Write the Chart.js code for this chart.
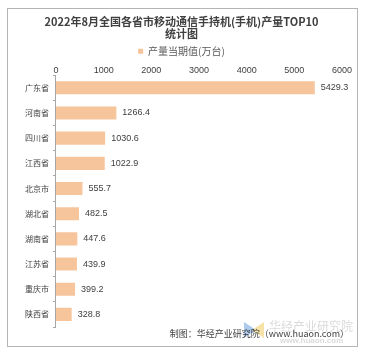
<!DOCTYPE html>
<html lang="zh-CN">
<head>
<meta charset="UTF-8">
<title>2022年8月全国各省市移动通信手持机(手机)产量TOP10统计图</title>
<script src="https://cdn.jsdelivr.net/npm/chart.js@4/dist/chart.umd.min.js"></script>
<style>
    body { margin: 0; background: #fff; }
    .box { position: relative; width: 368px; height: 358px; }
    .frame {
        position: absolute; left: 7px; top: 8px; width: 351px; height: 339px;
        border: 1px solid #b5b5b5; box-sizing: border-box; pointer-events: none;
    }
</style>
</head>
<body>
<div class="box">
    <canvas id="grafico" width="368" height="358"></canvas>
    <div class="frame"></div>
</div>
<script>
    const provincias = ['广东省', '河南省', '四川省', '江西省', '北京市', '湖北省', '湖南省', '江苏省', '重庆市', '陕西省'];
    const producao = [5429.3, 1266.4, 1030.6, 1022.9, 555.7, 482.5, 447.6, 439.9, 399.2, 328.8];
    const nomeSerie = '产量当期值(万台)';
    const titulo = ['2022年8月全国各省市移动通信手持机(手机)产量TOP10', '统计图'];
    const rodape = '制图：华经产业研究院（www.huaon.com）';

    const fonte = '"Noto Sans CJK SC", "Liberation Sans", sans-serif';
    const fonteNum = '"Liberation Sans", Arial, sans-serif';

    // valores na ponta das barras
    const rotulos = {
        id: 'rotulos',
        afterDatasetsDraw(chart) {
            const ctx = chart.ctx;
            const meta = chart.getDatasetMeta(0);
            ctx.save();
            ctx.font = '9px ' + fonteNum;
            ctx.fillStyle = '#404040';
            ctx.textBaseline = 'middle';
            meta.data.forEach((bar, i) => {
                ctx.fillText(producao[i].toFixed(1), bar.x + 6, bar.y);
            });
            ctx.restore();
        }
    };

    // rodapé + marca d'água
    const textoRodape = {
        id: 'textoRodape',
        afterDraw(chart) {
            const ctx = chart.ctx;
            ctx.save();
            ctx.fillStyle = 'rgba(70,140,220,0.45)';
            ctx.beginPath();
            ctx.moveTo(244, 322); ctx.lineTo(256, 330); ctx.lineTo(244, 338); ctx.closePath(); ctx.fill();
            ctx.fillStyle = 'rgba(240,200,80,0.5)';
            ctx.beginPath();
            ctx.moveTo(264, 322); ctx.lineTo(252, 330); ctx.lineTo(264, 338); ctx.closePath(); ctx.fill();
            ctx.font = '12px ' + fonte;
            ctx.fillStyle = 'rgba(150,150,150,0.35)';
            ctx.textAlign = 'left';
            ctx.textBaseline = 'middle';
            ctx.fillText('华经产业研究院', 269, 326);
            ctx.font = 'bold 8px ' + fonteNum;
            ctx.fillText('www.huaon.com', 280, 341);
            ctx.font = '9px ' + fonte;
            ctx.fillStyle = '#404040';
            ctx.textAlign = 'right';
            ctx.fillText(rodape, 349, 334);
            ctx.restore();
        }
    };

    new Chart(document.getElementById('grafico'), {
        type: 'bar',
        data: {
            labels: provincias,
            datasets: [{
                label: nomeSerie,
                data: producao,
                backgroundColor: '#f7c59c',
                barPercentage: 0.52,
                categoryPercentage: 1
            }]
        },
        options: {
            indexAxis: 'y',
            responsive: false,
            animation: false,
            layout: { padding: { left: 21, right: 26, top: 12, bottom: 31 } },
            plugins: {
                title: {
                    display: true,
                    text: titulo,
                    color: '#404040',
                    font: { family: fonte, size: 11, weight: 'bold', lineHeight: 1.1 },
                    padding: { top: 4, bottom: 6 }
                },
                legend: {
                    display: true,
                    position: 'top',
                    labels: {
                        boxWidth: 5, boxHeight: 5,
                        color: '#595959',
                        font: { family: fonte, size: 10, lineHeight: 1 },
                        padding: 0
                    }
                },
                tooltip: { enabled: false }
            },
            scales: {
                x: {
                    position: 'top',
                    min: 0, max: 6000,
                    ticks: {
                        stepSize: 1000, color: '#404040', padding: 0,
                        font: { family: fonteNum, size: 9, lineHeight: 1 },
                        callback: v => String(v)
                    },
                    grid: { display: false, drawTicks: false },
                    border: { display: false }
                },
                y: {
                    ticks: { color: '#404040', font: { family: fonte, size: 8 }, padding: 4 },
                    grid: { display: true, drawOnChartArea: false, drawTicks: true, tickLength: 3, offset: true, color: '#a6a6a6' },
                    border: { display: true, color: '#a6a6a6' }
                }
            }
        },
        plugins: [rotulos, textoRodape]
    });
</script>
</body>
</html>
